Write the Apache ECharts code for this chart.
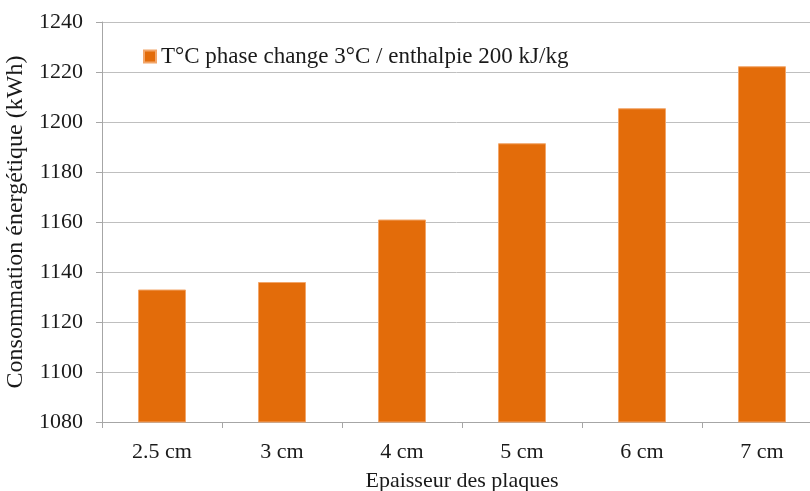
<!DOCTYPE html>
<html>
<head>
<meta charset="utf-8">
<script src="https://cdn.jsdelivr.net/npm/echarts@6/dist/echarts.min.js"></script>
<style>
  html, body { margin: 0; padding: 0; background: #fff; }
  #chart { width: 810px; height: 491px; }
</style>
</head>
<body>
<div id="chart"></div>
<script>
// Plate thickness categories and energy consumption (kWh)
const categories = ['2.5 cm', '3 cm', '4 cm', '5 cm', '6 cm', '7 cm'];
const consumption = [1133, 1136, 1161, 1191.5, 1205.5, 1222.3];
const seriesName = 'T°C phase change 3°C / enthalpie 200 kJ/kg';
const yMin = 1080, yMax = 1240, yStep = 20;

const serif = '"Liberation Serif", "DejaVu Serif", serif';
const chart = echarts.init(document.getElementById('chart'));

chart.setOption({
  animation: false,
  textStyle: { fontFamily: serif },
  // the last category runs past the right edge of the canvas
  grid: { left: 102, right: -12, top: 22, bottom: 69, containLabel: false, outerBoundsMode: 'none' },
  legend: {
    left: 138, top: 40,
    itemWidth: 12, itemHeight: 12, itemGap: 6,
    icon: 'rect',
    textStyle: { fontFamily: serif, fontSize: 23, color: '#1a1a1a' },
    data: [seriesName]
  },
  xAxis: {
    type: 'category',
    data: categories,
    name: 'Epaisseur des plaques',
    nameLocation: 'middle',
    nameGap: 48,
    nameTextStyle: { fontFamily: serif, fontSize: 22, color: '#1a1a1a' },
    axisLine: { lineStyle: { color: '#a6a6a6', width: 1 } },
    axisTick: { show: true, length: 6, lineStyle: { color: '#a6a6a6' } },
    axisLabel: { fontFamily: serif, fontSize: 22, color: '#1a1a1a', margin: 19 }
  },
  yAxis: {
    type: 'value',
    min: yMin, max: yMax, interval: yStep,
    name: 'Consommation énergétique (kWh)',
    nameLocation: 'middle',
    nameGap: 64,
    nameTextStyle: { fontFamily: serif, fontSize: 24, color: '#1a1a1a' },
    axisLine: { show: true, lineStyle: { color: '#a6a6a6', width: 1 } },
    axisTick: { show: true, length: 6, lineStyle: { color: '#a6a6a6' } },
    axisLabel: { fontFamily: serif, fontSize: 22, color: '#1a1a1a', margin: 19,
                 formatter: v => String(v) },
    splitLine: { lineStyle: { color: '#bfbfbf', width: 1 } }
  },
  series: [{
    name: seriesName,
    type: 'bar',
    data: consumption,
    barWidth: '40%',
    itemStyle: { color: '#e36c0a', borderColor: '#f2a66a', borderWidth: 1 }
  }]
});
</script>
</body>
</html>
